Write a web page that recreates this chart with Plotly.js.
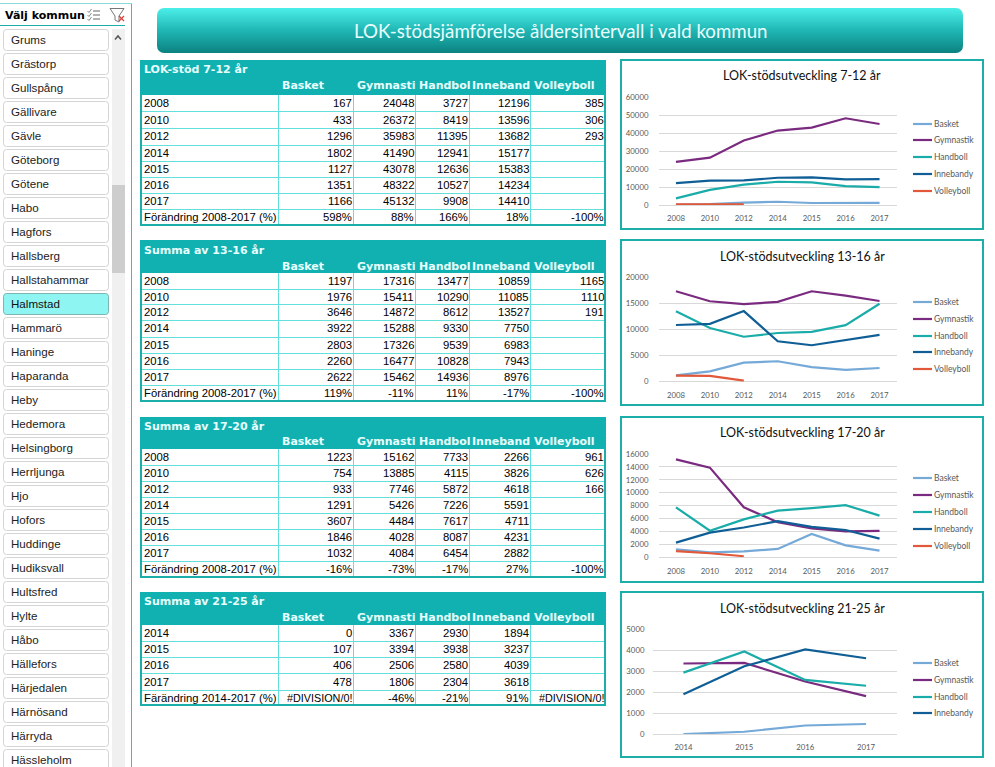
<!DOCTYPE html>
<html><head><meta charset="utf-8">
<script src="https://cdn.plot.ly/plotly-3.0.1.min.js"></script>
<style>html,body{margin:0;padding:0;background:#fff}#c{width:995px;height:767px}</style></head>
<body><div id="c"></div>
<script>
const kommuner=['Grums','Grästorp','Gullspång','Gällivare','Gävle','Göteborg','Götene','Habo','Hagfors','Hallsberg','Hallstahammar','Halmstad','Hammarö','Haninge','Haparanda','Heby','Hedemora','Helsingborg','Herrljunga','Hjo','Hofors','Huddinge','Hudiksvall','Hultsfred','Hylte','Håbo','Hällefors','Härjedalen','Härnösand','Härryda','Hässleholm'];
const selectedKommun='Halmstad';
const sports=['Basket','Gymnastik','Handboll','Innebandy','Volleyboll'];
const colHeaders=['Basket','Gymnasti','Handbol','Inneband','Volleyboll'];
const sportColors=['#74a9d8','#7a2b80','#1aaca8','#0f5f96','#e2583a'];
const yearsLong=['2008','2010','2012','2014','2015','2016','2017'];
const yearsShort=['2014','2015','2016','2017'];

const basket712=[167,433,1296,1802,1127,1351,1166];
const gymnastik712=[24048,26372,35983,41490,43078,48322,45132];
const handboll712=[3727,8419,11395,12941,12636,10527,9908];
const innebandy712=[12196,13596,13682,15177,15383,14234,14410];
const volleyboll712=[385,306,293,null,null,null,null];
const change712=['598%','88%','166%','18%','-100%'];

const basket1316=[1197,1976,3646,3922,2803,2260,2622];
const gymnastik1316=[17316,15411,14872,15288,17326,16477,15462];
const handboll1316=[13477,10290,8612,9330,9539,10828,14936];
const innebandy1316=[10859,11085,13527,7750,6983,7943,8976];
const volleyboll1316=[1165,1110,191,null,null,null,null];
const change1316=['119%','-11%','11%','-17%','-100%'];

const basket1720=[1223,754,933,1291,3607,1846,1032];
const gymnastik1720=[15162,13885,7746,5426,4484,4028,4084];
const handboll1720=[7733,4115,5872,7226,7617,8087,6454];
const innebandy1720=[2266,3826,4618,5591,4711,4231,2882];
const volleyboll1720=[961,626,166,null,null,null,null];
const change1720=['-16%','-73%','-17%','27%','-100%'];

const basket2125=[0,107,406,478];
const gymnastik2125=[3367,3394,2506,1806];
const handboll2125=[2930,3938,2580,2304];
const innebandy2125=[1894,3237,4039,3618];
const volleyboll2125=[null,null,null,null];
const change2125=['#DIVISION/0!','-46%','-21%','91%','#DIVISION/0!'];

const W=995,H=767;
const px=x=>x/W, py=y=>1-y/H;
const shapes=[],annotations=[],images=[],traces=[];
const FONT_CELL='Liberation Sans, Arial, sans-serif';
const FONT_HEAD='DejaVu Sans, Verdana, sans-serif';
const FONT_CHART='Lato, Calibri, sans-serif';
const TEAL='#12b1b1',GRID='#63dfdc',FRAME='#1cafa9';

function rect(x0,y0,x1,y1,fill,line,lw,layer){
  shapes.push({type:'rect',xref:'paper',yref:'paper',x0:px(x0),x1:px(x1),y0:py(y0),y1:py(y1),
    fillcolor:fill||'rgba(0,0,0,0)',line:{color:line||'rgba(0,0,0,0)',width:lw||0},layer:layer||'below'});
}
function seg(x0,y0,x1,y1,color,lw,layer){
  shapes.push({type:'line',xref:'paper',yref:'paper',x0:px(x0),x1:px(x1),y0:py(y0),y1:py(y1),
    line:{color:color,width:lw||1},layer:layer||'below'});
}
function path(d,fill,line,lw){
  shapes.push({type:'path',xref:'paper',yref:'paper',path:d,fillcolor:fill||'rgba(0,0,0,0)',
    line:{color:line||'rgba(0,0,0,0)',width:lw||0},layer:'below'});
}
function P(x,y){return px(x)+' '+py(y);}
function rrect(x0,y0,x1,y1,r,fill,line){
  const d='M'+P(x0+r,y0)+' L'+P(x1-r,y0)+' Q'+P(x1,y0)+' '+P(x1,y0+r)+' L'+P(x1,y1-r)+' Q'+P(x1,y1)+' '+P(x1-r,y1)+
    ' L'+P(x0+r,y1)+' Q'+P(x0,y1)+' '+P(x0,y1-r)+' L'+P(x0,y0+r)+' Q'+P(x0,y0)+' '+P(x0+r,y0)+' Z';
  path(d,fill,line,1);
}
function txt(x,y,text,o){
  o=o||{};
  annotations.push({xref:'paper',yref:'paper',x:px(x),y:py(y),text:text,showarrow:false,
    xanchor:o.anchor||'left',yanchor:'middle',borderpad:0,borderwidth:0,
    font:{family:o.family||FONT_CELL,size:o.size||11.3,color:o.color||'#000',weight:o.weight||400}});
}

/* ---------- slicer ---------- */
seg(131.5,3,131.5,H,'#3fbdb9',1);
seg(0,3.5,132,3.5,'#8adcd9',1);
seg(0,25.5,125,25.5,FRAME,1);
txt(5,15,'Välj kommun',{family:FONT_HEAD,size:11,weight:700});
[11,15,19].forEach(y=>{
  seg(93,y,100,y,'#666',1);
  seg(87.5,y,89,y+1.5,'#888',1); seg(89,y+1.5,91.5,y-2,'#888',1);
});
path('M'+P(110,8.5)+' L'+P(124,8.5)+' L'+P(119,16)+' L'+P(119,22)+' L'+P(115,20)+' L'+P(115,16)+' Z','#fff','#777',1);
seg(119,16,124,21,'#d9443a',1.2); seg(124,16,119,21,'#d9443a',1.2);
rect(112,29,125,H,'#f0f0f0');
rect(112,185,125,273,'#cdcdcd');
path('M'+P(115,39.5)+' L'+P(118,36)+' L'+P(121,39.5),null,'#555',1.5);
kommuner.forEach((k,i)=>{
  const c=40+24*i, sel=k===selectedKommun;
  rrect(3.5,c-10.5,108.5,c+10.5,3,sel?'#8ff5f3':'#fff',sel?'#7ab5b3':'#d4d4d4');
  txt(11,c-0.5,k,{color:sel?'#111':'#222',size:11.6});
});

/* ---------- banner ---------- */
const bannerSvg='<svg xmlns="http://www.w3.org/2000/svg" width="806" height="45"><defs><linearGradient id="g" x1="0" y1="0" x2="0" y2="1"><stop offset="0" stop-color="#4cefe9"/><stop offset="0.5" stop-color="#1fb6b4"/><stop offset="1" stop-color="#0b8280"/></linearGradient></defs><rect width="806" height="45" rx="7" ry="7" fill="url(#g)"/></svg>';
images.push({source:'data:image/svg+xml;base64,'+btoa(bannerSvg),xref:'paper',yref:'paper',x:px(157),y:py(8),sizex:806/W,sizey:45/H,xanchor:'left',yanchor:'top',sizing:'stretch',layer:'below'});
txt(560.5,31,'LOK-stödsjämförelse åldersintervall i vald kommun',{anchor:'center',family:FONT_CHART,size:18.7,color:'#e9ffff'});

/* ---------- tables ---------- */
const colLines=[278,353,415,469,530,605];
const headStarts=[282,357,419,472,534];
function table(top,titleY,headY,lines,title,years,series,changeLabel,change){
  const left=140,right=606;
  const head=lines[0], bottom=lines[lines.length-1];
  rect(left,top,right,head,TEAL);
  rect(left,head,right,bottom,'#fff');
  txt(144,titleY,title,{family:FONT_HEAD,size:11,weight:700,color:'#e8ffff'});
  colHeaders.forEach((h,j)=>txt(headStarts[j],headY,h,{family:FONT_HEAD,size:11,weight:700,color:'#e8ffff'}));
  lines.slice(1,-1).forEach(y=>rect(left,y,right,y+1,GRID));
  colLines.slice(0,-1).forEach(x=>rect(x,head,x+1,bottom,GRID));
  rect(left,bottom-1,right,bottom+1,FRAME);
  rect(left,head,left+2,bottom,FRAME);
  rect(right-2,head,right,bottom,FRAME);
  const cols=colLines;
  years.forEach((yr,i)=>{
    const c=(lines[i]+lines[i+1])/2;
    txt(144,c,yr);
    series.forEach((s,j)=>{ if(s[i]!==null) txt(cols[j+1]-1,c,String(s[i]),{anchor:'right'}); });
  });
  const n=years.length, c=(lines[n]+lines[n+1])/2;
  txt(144,c,changeLabel);
  change.forEach((v,j)=>txt(cols[j+1]-1,c,v,{anchor:'right',size:v.length>6?10.8:11.3}));
}
table(60,69.5,85.5,[95,111,128,145,161,177,193,209,225],'LOK-stöd 7-12 år',yearsLong,
  [basket712,gymnastik712,handboll712,innebandy712,volleyboll712],'Förändring 2008-2017 (%)',change712);
table(240,250.5,266.5,[273,289,304,320,337,353,369,385,401],'Summa av 13-16 år',yearsLong,
  [basket1316,gymnastik1316,handboll1316,innebandy1316,volleyboll1316],'Förändring 2008-2017 (%)',change1316);
table(417,426.5,441.5,[449,465,481,497,513,529,545,561,577],'Summa av 17-20 år',yearsLong,
  [basket1720,gymnastik1720,handboll1720,innebandy1720,volleyboll1720],'Förändring 2008-2017 (%)',change1720);
table(592,601.5,617.5,[625,641,657,673,690,705],'Summa av 21-25 år',yearsShort,
  [basket2125,gymnastik2125,handboll2125,innebandy2125,volleyboll2125],'Färändring 2014-2017 (%)',change2125);

/* ---------- charts ---------- */
const layoutAxes={};
function chart(n,o){
  const xa=n===1?'xaxis':'xaxis'+n, ya=n===1?'yaxis':'yaxis'+n;
  rect(621,o.frame[0],983,o.frame[1],'#fff',FRAME,2);
  txt(802,o.titleY,o.title,{anchor:'center',family:FONT_CHART,size:12.5,color:'#111'});
  o.series.forEach((s,j)=>{
    traces.push({type:'scatter',mode:'lines',name:sports[j],x:o.years,y:s,xaxis:'x'+(n===1?'':n),yaxis:'y'+(n===1?'':n),
      line:{color:sportColors[j],width:2.2},connectgaps:false,cliponaxis:false,showlegend:false,hoverinfo:'x+y+name'});
    const ly=o.legend[j];
    seg(913,ly,932,ly,sportColors[j],2.2);
    txt(934,ly,sports[j],{family:FONT_CHART,size:8.5,color:'#595959'});
  });
  layoutAxes[xa]={domain:[px(o.x0),px(896.5)],anchor:ya.replace('axis',''),type:'category',categoryorder:'array',categoryarray:o.years,
    range:[-0.5,o.years.length-0.5],showgrid:false,zeroline:false,showline:false,ticks:'outside',ticklen:6,tickcolor:'rgba(0,0,0,0)',
    tickfont:{family:FONT_CHART,size:7.8,color:'#595959'},fixedrange:true};
  layoutAxes[ya]={domain:[py(o.yBottom),py(o.yTop)],anchor:xa.replace('axis',''),range:[0,o.ymax],dtick:o.dtick,tick0:0,
    showgrid:true,gridcolor:'#d9d9d9',gridwidth:1,zeroline:true,zerolinecolor:'#d9d9d9',zerolinewidth:1,showline:false,
    ticks:'outside',ticklen:o.ytick,tickcolor:'rgba(0,0,0,0)',tickformat:'d',
    tickfont:{family:FONT_CHART,size:7.8,color:'#595959'},fixedrange:true};
}
chart(1,{frame:[60,229],titleY:75,title:'LOK-stödsutveckling 7-12 år',years:yearsLong,x0:659,yTop:97.3,yBottom:205,ymax:60000,dtick:10000,ytick:8,
  series:[basket712,gymnastik712,handboll712,innebandy712,volleyboll712],legend:[124,140,157,174,191]});
chart(2,{frame:[240,405],titleY:257,title:'LOK-stödsutveckling 13-16 år',years:yearsLong,x0:659,yTop:277.3,yBottom:381.7,ymax:20000,dtick:5000,ytick:8,
  series:[basket1316,gymnastik1316,handboll1316,innebandy1316,volleyboll1316],legend:[302,319,336,352,369]});
chart(3,{frame:[417,582],titleY:432,title:'LOK-stödsutveckling 17-20 år',years:yearsLong,x0:659,yTop:454,yBottom:557.3,ymax:16000,dtick:2000,ytick:8,
  series:[basket1720,gymnastik1720,handboll1720,innebandy1720,volleyboll1720],legend:[478,495,512,529,546]});
chart(4,{frame:[592,757],titleY:608,title:'LOK-stödsutveckling 21-25 år',years:yearsShort,x0:653,yTop:629.3,yBottom:734,ymax:5000,dtick:1000,ytick:6,
  series:[basket2125,gymnastik2125,handboll2125,innebandy2125],legend:[663,680,697,713]});

Plotly.newPlot('c',traces,Object.assign({
  width:W,height:H,margin:{l:0,r:0,t:0,b:0,pad:0},paper_bgcolor:'#fff',plot_bgcolor:'rgba(0,0,0,0)',
  showlegend:false,shapes:shapes,annotations:annotations,images:images,hovermode:'closest'
},layoutAxes),{displayModeBar:false,staticPlot:true});
</script></body></html>
